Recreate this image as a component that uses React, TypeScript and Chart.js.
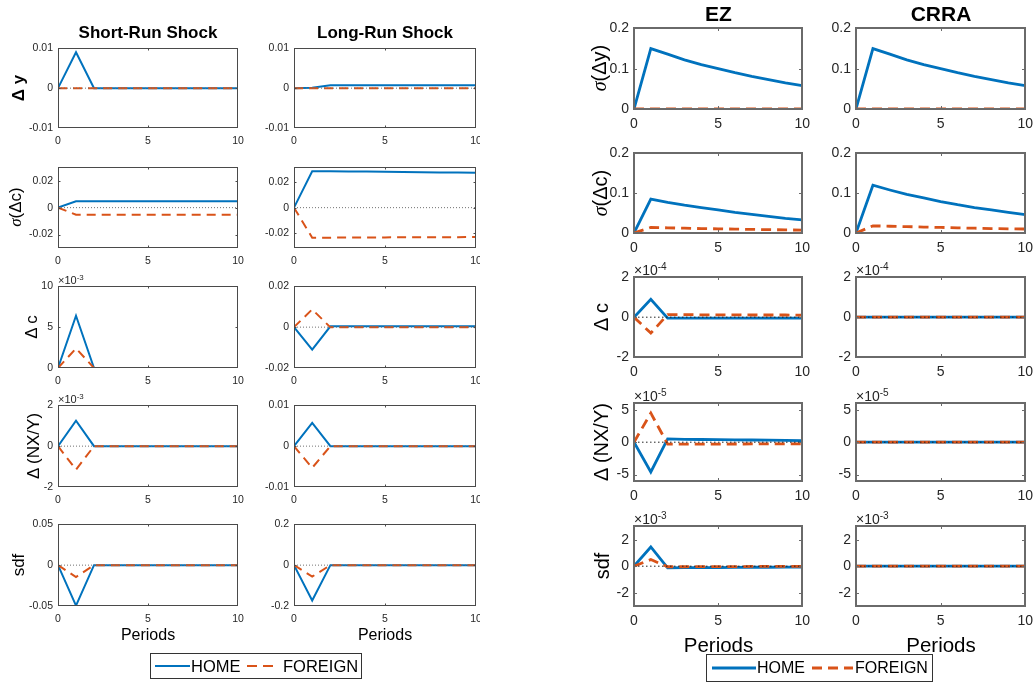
import React, { useEffect, useRef } from 'react';
import { Chart, registerables } from 'chart.js';

Chart.register(...registerables);

const FONT = "'Liberation Sans', Arial, Helvetica, sans-serif";
const BLUE = '#0072BD';
const RED = '#D95319';
const TICK_COLOR = '#262626';

// ---------- shared axes ----------
const PERIODS = [0, 1, 2, 3, 4, 5, 6, 7, 8, 9, 10];
const X_TICKS = [0, 5, 10];
const ZERO_LINE = [0, 0, 0, 0, 0, 0, 0, 0, 0, 0, 0];

// ---------- left figure: Short-Run (SR) and Long-Run (LR) shocks ----------
const SR_DY_HOME = [0, 0.009, 0, 0, 0, 0, 0, 0, 0, 0, 0];
const SR_DY_FOREIGN = [0, 0, 0, 0, 0, 0, 0, 0, 0, 0, 0];
const LR_DY_HOME = [0, 0.0001, 0.0007, 0.0007, 0.0007, 0.0007, 0.0007, 0.0007, 0.0007, 0.0007, 0.0007];
const LR_DY_FOREIGN = [0, 0, 0, 0, 0, 0, 0, 0, 0, 0, 0];

const SR_SDC_HOME = [0, 0.0047, 0.0047, 0.0047, 0.0047, 0.0047, 0.0047, 0.0047, 0.0047, 0.0047, 0.0047];
const SR_SDC_FOREIGN = [0, -0.0052, -0.0052, -0.0052, -0.0052, -0.0052, -0.0052, -0.0052, -0.0052, -0.0052, -0.0052];
const LR_SDC_HOME = [0, 0.0289, 0.0288, 0.0287, 0.0286, 0.0284, 0.0283, 0.0281, 0.0279, 0.0278, 0.0276];
const LR_SDC_FOREIGN = [0, -0.0238, -0.0238, -0.0237, -0.0237, -0.0236, -0.0235, -0.0235, -0.0234, -0.0234, -0.0233];

// x10^-3
const SR_DC_HOME = [0, 6.4, 0, 0, 0, 0, 0, 0, 0, 0, 0];
const SR_DC_FOREIGN = [0, 2.4, 0, 0, 0, 0, 0, 0, 0, 0, 0];
const LR_DC_HOME = [0, -0.011, 0.0004, 0.0004, 0.0004, 0.0004, 0.0004, 0.0004, 0.0004, 0.0004, 0.0004];
const LR_DC_FOREIGN = [0, 0.0087, -0.0001, -0.0001, -0.0001, -0.0001, -0.0001, -0.0001, -0.0001, -0.0001, -0.0001];

// x10^-3
const SR_NX_HOME = [0, 1.25, 0, 0, 0, 0, 0, 0, 0, 0, 0];
const SR_NX_FOREIGN = [0, -1.15, 0, 0, 0, 0, 0, 0, 0, 0, 0];
const LR_NX_HOME = [0, 0.0057, 0, 0, 0, 0, 0, 0, 0, 0, 0];
const LR_NX_FOREIGN = [0, -0.0053, 0, 0, 0, 0, 0, 0, 0, 0, 0];

const SR_SDF_HOME = [0, -0.0495, 0, 0, 0, 0, 0, 0, 0, 0, 0];
const SR_SDF_FOREIGN = [0, -0.0145, 0, 0, 0, 0, 0, 0, 0, 0, 0];
const LR_SDF_HOME = [0, -0.173, 0, 0, 0, 0, 0, 0, 0, 0, 0];
const LR_SDF_FOREIGN = [0, -0.056, 0, 0, 0, 0, 0, 0, 0, 0, 0];

// ---------- right figure: EZ and CRRA ----------
const EZ_SDY_HOME = [0, 0.15, 0.136, 0.122, 0.11, 0.1, 0.09, 0.081, 0.073, 0.065, 0.058];
const EZ_SDY_FOREIGN = [0, 0, 0, 0, 0, 0, 0, 0, 0, 0, 0];
const CRRA_SDY_HOME = [0, 0.15, 0.136, 0.122, 0.11, 0.1, 0.09, 0.081, 0.073, 0.065, 0.058];
const CRRA_SDY_FOREIGN = [0, 0, 0, 0, 0, 0, 0, 0, 0, 0, 0];

const EZ_SDC_HOME = [0, 0.085, 0.077, 0.07, 0.064, 0.058, 0.052, 0.047, 0.042, 0.037, 0.033];
const EZ_SDC_FOREIGN = [0, 0.014, 0.013, 0.012, 0.011, 0.0105, 0.0098, 0.009, 0.0085, 0.0078, 0.0073];
const CRRA_SDC_HOME = [0, 0.12, 0.108, 0.097, 0.088, 0.079, 0.071, 0.064, 0.058, 0.052, 0.046];
const CRRA_SDC_FOREIGN = [0, 0.018, 0.017, 0.016, 0.015, 0.014, 0.013, 0.012, 0.011, 0.0105, 0.01];

// x10^-4
const EZ_DC_HOME = [0, 0.9, -0.05, -0.05, -0.05, -0.05, -0.05, -0.05, -0.05, -0.05, -0.05];
const EZ_DC_FOREIGN = [0, -0.8, 0.13, 0.13, 0.12, 0.12, 0.12, 0.11, 0.11, 0.11, 0.1];
const CRRA_DC_HOME = [0, 0, 0, 0, 0, 0, 0, 0, 0, 0, 0];
const CRRA_DC_FOREIGN = [0, 0, 0, 0, 0, 0, 0, 0, 0, 0, 0];

// x10^-5
const EZ_NX_HOME = [0, -4.6, 0.5, 0.45, 0.42, 0.4, 0.37, 0.34, 0.31, 0.28, 0.25];
const EZ_NX_FOREIGN = [0, 4.5, -0.3, -0.3, -0.3, -0.3, -0.28, -0.27, -0.26, -0.25, -0.25];
const CRRA_NX_HOME = [0, 0, 0, 0, 0, 0, 0, 0, 0, 0, 0];
const CRRA_NX_FOREIGN = [0, 0, 0, 0, 0, 0, 0, 0, 0, 0, 0];

// x10^-3
const EZ_SDF_HOME = [0, 1.45, -0.12, -0.11, -0.1, -0.1, -0.09, -0.08, -0.08, -0.07, -0.07];
const EZ_SDF_FOREIGN = [0, 0.5, -0.04, -0.04, -0.03, -0.03, -0.03, -0.02, -0.02, -0.02, -0.02];
const CRRA_SDF_HOME = [0, 0, 0, 0, 0, 0, 0, 0, 0, 0, 0];
const CRRA_SDF_FOREIGN = [0, 0, 0, 0, 0, 0, 0, 0, 0, 0, 0];

// ---------- tick sets ----------
const TICKS_PM001 = [-0.01, 0, 0.01];
const LABELS_PM001 = ['-0.01', '0', '0.01'];
const TICKS_PM002 = [-0.02, 0, 0.02];
const LABELS_PM002 = ['-0.02', '0', '0.02'];
const TICKS_0_10 = [0, 5, 10];
const LABELS_0_10 = ['0', '5', '10'];
const TICKS_PM2 = [-2, 0, 2];
const LABELS_PM2 = ['-2', '0', '2'];
const TICKS_PM005 = [-0.05, 0, 0.05];
const LABELS_PM005 = ['-0.05', '0', '0.05'];
const TICKS_PM02 = [-0.2, 0, 0.2];
const LABELS_PM02 = ['-0.2', '0', '0.2'];
const TICKS_0_02 = [0, 0.1, 0.2];
const LABELS_0_02 = ['0', '0.1', '0.2'];
const TICKS_PM5 = [-5, 0, 5];
const LABELS_PM5 = ['-5', '0', '5'];

// ---------- text ----------
const LEFT_TITLES = ['Short-Run Shock', 'Long-Run Shock'];
const RIGHT_TITLES = ['EZ', 'CRRA'];
const X_LABEL = 'Periods';
const SERIES_NAMES = ['HOME', 'FOREIGN'];

// ---------- layout ----------
const LEFT_COLS = [[58, 238], [294, 476]];
const LEFT_ROWS = [[47, 128], [166, 248], [285, 368], [404, 487], [523, 606]];
const RIGHT_COLS = [[634, 803], [856, 1026]];
const RIGHT_ROWS = [[27, 109], [152, 233], [276, 357], [402, 481], [525, 606]];

type Style = {
  lw: number; dash: number[]; zeroColor: string; zeroDash: number[];
  tickFont: number; boxColor: string; boxWidth: number; tickLen: number;
  axisW: number; axisH: number; padT: number; padR: number; xPad: number; yPad: number;
};

const LEFT_STYLE: Style = {
  lw: 2, dash: [9, 6], zeroColor: '#707070', zeroDash: [1, 2],
  tickFont: 10.5, boxColor: '#4a4a4a', boxWidth: 1, tickLen: 2,
  axisW: 50, axisH: 26, padT: 10, padR: 14, xPad: 7, yPad: 5,
};
const RIGHT_STYLE: Style = {
  lw: 2.8, dash: [10, 6], zeroColor: '#222222', zeroDash: [1.5, 2.5],
  tickFont: 14, boxColor: '#6a6a6a', boxWidth: 2, tickLen: 3,
  axisW: 50, axisH: 30, padT: 12, padR: 14, xPad: 7, yPad: 5,
};

type Panel = {
  r: number; c: number; home: number[]; foreign: number[];
  y: number[]; ticks: number[]; labels: string[]; exp?: string;
};

const LEFT_PANELS: Panel[] = [
  { r: 0, c: 0, home: SR_DY_HOME, foreign: SR_DY_FOREIGN, y: [-0.01, 0.01], ticks: TICKS_PM001, labels: LABELS_PM001 },
  { r: 0, c: 1, home: LR_DY_HOME, foreign: LR_DY_FOREIGN, y: [-0.01, 0.01], ticks: TICKS_PM001, labels: LABELS_PM001 },
  { r: 1, c: 0, home: SR_SDC_HOME, foreign: SR_SDC_FOREIGN, y: [-0.03, 0.03], ticks: TICKS_PM002, labels: LABELS_PM002 },
  { r: 1, c: 1, home: LR_SDC_HOME, foreign: LR_SDC_FOREIGN, y: [-0.032, 0.032], ticks: TICKS_PM002, labels: LABELS_PM002 },
  { r: 2, c: 0, home: SR_DC_HOME, foreign: SR_DC_FOREIGN, y: [0, 10], ticks: TICKS_0_10, labels: LABELS_0_10, exp: '-3' },
  { r: 2, c: 1, home: LR_DC_HOME, foreign: LR_DC_FOREIGN, y: [-0.02, 0.02], ticks: TICKS_PM002, labels: LABELS_PM002 },
  { r: 3, c: 0, home: SR_NX_HOME, foreign: SR_NX_FOREIGN, y: [-2, 2], ticks: TICKS_PM2, labels: LABELS_PM2, exp: '-3' },
  { r: 3, c: 1, home: LR_NX_HOME, foreign: LR_NX_FOREIGN, y: [-0.01, 0.01], ticks: TICKS_PM001, labels: LABELS_PM001 },
  { r: 4, c: 0, home: SR_SDF_HOME, foreign: SR_SDF_FOREIGN, y: [-0.05, 0.05], ticks: TICKS_PM005, labels: LABELS_PM005 },
  { r: 4, c: 1, home: LR_SDF_HOME, foreign: LR_SDF_FOREIGN, y: [-0.2, 0.2], ticks: TICKS_PM02, labels: LABELS_PM02 },
];

const RIGHT_PANELS: Panel[] = [
  { r: 0, c: 0, home: EZ_SDY_HOME, foreign: EZ_SDY_FOREIGN, y: [0, 0.2], ticks: TICKS_0_02, labels: LABELS_0_02 },
  { r: 0, c: 1, home: CRRA_SDY_HOME, foreign: CRRA_SDY_FOREIGN, y: [0, 0.2], ticks: TICKS_0_02, labels: LABELS_0_02 },
  { r: 1, c: 0, home: EZ_SDC_HOME, foreign: EZ_SDC_FOREIGN, y: [0, 0.2], ticks: TICKS_0_02, labels: LABELS_0_02 },
  { r: 1, c: 1, home: CRRA_SDC_HOME, foreign: CRRA_SDC_FOREIGN, y: [0, 0.2], ticks: TICKS_0_02, labels: LABELS_0_02 },
  { r: 2, c: 0, home: EZ_DC_HOME, foreign: EZ_DC_FOREIGN, y: [-2, 2], ticks: TICKS_PM2, labels: LABELS_PM2, exp: '-4' },
  { r: 2, c: 1, home: CRRA_DC_HOME, foreign: CRRA_DC_FOREIGN, y: [-2, 2], ticks: TICKS_PM2, labels: LABELS_PM2, exp: '-4' },
  { r: 3, c: 0, home: EZ_NX_HOME, foreign: EZ_NX_FOREIGN, y: [-6, 6], ticks: TICKS_PM5, labels: LABELS_PM5, exp: '-5' },
  { r: 3, c: 1, home: CRRA_NX_HOME, foreign: CRRA_NX_FOREIGN, y: [-6, 6], ticks: TICKS_PM5, labels: LABELS_PM5, exp: '-5' },
  { r: 4, c: 0, home: EZ_SDF_HOME, foreign: EZ_SDF_FOREIGN, y: [-3, 3], ticks: TICKS_PM2, labels: LABELS_PM2, exp: '-3' },
  { r: 4, c: 1, home: CRRA_SDF_HOME, foreign: CRRA_SDF_FOREIGN, y: [-3, 3], ticks: TICKS_PM2, labels: LABELS_PM2, exp: '-3' },
];

const boxPlugin = {
  id: 'matlabBox',
  afterDatasetsDraw(chart: any, _args: any, opts: any) {
    const { ctx, chartArea: a } = chart;
    const xs = chart.scales.x;
    const ys = chart.scales.y;
    const off = opts.width % 2 === 1 ? 0.5 : 0;
    const L = Math.round(a.left) + off;
    const T = Math.round(a.top) + off;
    const R = Math.round(a.right) - off;
    const B = Math.round(a.bottom) - off;
    ctx.save();
    ctx.strokeStyle = opts.color;
    ctx.lineWidth = opts.width;
    ctx.setLineDash([]);
    ctx.strokeRect(L, T, R - L, B - T);
    ctx.beginPath();
    xs.ticks.forEach((t: any) => {
      const x = Math.round(xs.getPixelForValue(t.value)) + 0.5;
      if (x > L + 2 && x < R - 2) {
        ctx.moveTo(x, B); ctx.lineTo(x, B - opts.len);
        ctx.moveTo(x, T); ctx.lineTo(x, T + opts.len);
      }
    });
    ys.ticks.forEach((t: any) => {
      const y = Math.round(ys.getPixelForValue(t.value)) + 0.5;
      if (y > T + 2 && y < B - 2) {
        ctx.moveTo(L, y); ctx.lineTo(L + opts.len, y);
        ctx.moveTo(R, y); ctx.lineTo(R - opts.len, y);
      }
    });
    ctx.lineWidth = 1;
    ctx.stroke();
    ctx.restore();
  },
};

function toPoints(values: number[]) {
  return values.map((v, i) => ({ x: PERIODS[i], y: v }));
}

function PanelChart({ p, box, st }: { p: Panel; box: number[]; st: Style }) {
  const ref = useRef<HTMLCanvasElement>(null);
  const [l, t, r, b] = box;
  const width = r - l + st.axisW + st.padR;
  const height = b - t + st.padT + st.axisH;
  useEffect(() => {
    const chart = new Chart(ref.current as HTMLCanvasElement, {
      type: 'line',
      data: {
        datasets: [
          {
            data: toPoints(ZERO_LINE), borderColor: st.zeroColor, borderWidth: 1,
            borderDash: st.zeroDash, pointRadius: 0, order: 1,
          },
          {
            data: toPoints(p.foreign), borderColor: RED, borderWidth: st.lw,
            borderDash: st.dash, pointRadius: 0, order: 2,
          },
          {
            data: toPoints(p.home), borderColor: BLUE, borderWidth: st.lw,
            pointRadius: 0, order: 3,
          },
        ],
      },
      options: {
        animation: false,
        responsive: false,
        devicePixelRatio: 1,
        layout: { padding: { top: st.padT, right: st.padR, left: 0, bottom: 0 } },
        elements: { line: { tension: 0, borderCapStyle: 'butt' }, point: { radius: 0 } },
        plugins: {
          legend: { display: false },
          tooltip: { enabled: false },
          matlabBox: { color: st.boxColor, width: st.boxWidth, len: st.tickLen },
        } as any,
        scales: {
          x: {
            type: 'linear', min: 0, max: 10,
            grid: { display: false, drawTicks: false },
            border: { display: false },
            ticks: {
              font: { family: FONT, size: st.tickFont }, color: TICK_COLOR,
              padding: st.xPad, maxRotation: 0, autoSkip: false,
              callback: (v: any) => String(v),
            },
            afterBuildTicks: (s: any) => { s.ticks = X_TICKS.map((v) => ({ value: v })); },
            afterFit: (s: any) => { s.height = st.axisH; },
          },
          y: {
            type: 'linear', min: p.y[0], max: p.y[1],
            grid: { display: false, drawTicks: false },
            border: { display: false },
            ticks: {
              font: { family: FONT, size: st.tickFont }, color: TICK_COLOR,
              padding: st.yPad, autoSkip: false,
              callback: (v: any) => {
                const i = p.ticks.indexOf(v);
                return i >= 0 ? p.labels[i] : '';
              },
            },
            afterBuildTicks: (s: any) => { s.ticks = p.ticks.map((v) => ({ value: v })); },
            afterFit: (s: any) => { s.width = st.axisW; },
          },
        },
      } as any,
      plugins: [boxPlugin],
    });
    return () => chart.destroy();
  }, []);
  return (
    <canvas
      ref={ref}
      width={width}
      height={height}
      style={{ position: 'absolute', left: l - st.axisW, top: t - st.padT, width, height }}
    />
  );
}

function Text({ x, y, size, bold, children, rotate }: any) {
  return (
    <div
      style={{
        position: 'absolute', left: x, top: y,
        transform: `translate(-50%, -50%)${rotate ? ' rotate(-90deg)' : ''}`,
        whiteSpace: 'nowrap', fontFamily: FONT, fontSize: size,
        fontWeight: bold ? 'bold' : 'normal', lineHeight: 1, color: '#000',
      }}
    >
      {children}
    </div>
  );
}

function Exponent({ x, y, size, exp }: any) {
  return (
    <div
      style={{
        position: 'absolute', left: x, top: y, transform: 'translateY(-50%)',
        whiteSpace: 'nowrap', fontFamily: FONT, fontSize: size, lineHeight: 1, color: TICK_COLOR,
      }}
    >
      ×10<span style={{ fontSize: '0.72em', position: 'relative', top: '-0.5em' }}>{exp}</span>
    </div>
  );
}

const Sigma = () => <span style={{ fontStyle: 'italic', fontFamily: "'Liberation Serif', serif" }}>σ</span>;

function Legend({ left, top, w, h, blue, red, homeX, foreignX, size, lw, dash }: any) {
  const cy = top + h / 2;
  return (
    <>
      <div style={{ position: 'absolute', left, top, width: w, height: h, border: '1px solid #333', boxSizing: 'border-box', background: '#fff' }} />
      <svg style={{ position: 'absolute', left: 0, top: 0 }} width={1036} height={683}>
        <line x1={blue[0]} x2={blue[1]} y1={cy} y2={cy} stroke={BLUE} strokeWidth={lw} />
        <line x1={red[0]} x2={red[1]} y1={cy} y2={cy} stroke={RED} strokeWidth={lw} strokeDasharray={dash.join(' ')} />
      </svg>
      <div style={{ position: 'absolute', left: homeX, top: cy, transform: 'translateY(-50%)', fontFamily: FONT, fontSize: size, lineHeight: 1, color: '#000' }}>{SERIES_NAMES[0]}</div>
      <div style={{ position: 'absolute', left: foreignX, top: cy, transform: 'translateY(-50%)', fontFamily: FONT, fontSize: size, lineHeight: 1, color: '#000' }}>{SERIES_NAMES[1]}</div>
    </>
  );
}

export default function App() {
  const leftLabelX = [18, 15, 31, 33, 18];
  const rightLabelX = [599, 600, 601, 601, 602];
  const rowLabels = [
    <>Δ y</>,
    <><Sigma />(Δc)</>,
    <>Δ c</>,
    <>Δ (NX/Y)</>,
    <>sdf</>,
  ];
  const rightRowLabels = [
    <><Sigma />(Δy)</>,
    <><Sigma />(Δc)</>,
    <>Δ c</>,
    <>Δ (NX/Y)</>,
    <>sdf</>,
  ];
  return (
    <div style={{ position: 'absolute', left: 0, top: 0, width: 1036, height: 683, overflow: 'hidden', background: '#fff' }}>
      <div style={{ position: 'absolute', left: 0, top: 0, width: 480, height: 683, overflow: 'hidden' }}>
        {LEFT_PANELS.map((p, i) => {
          const [l, r] = LEFT_COLS[p.c];
          const [t, b] = LEFT_ROWS[p.r];
          return <PanelChart key={i} p={p} box={[l, t, r, b]} st={LEFT_STYLE} />;
        })}
        {LEFT_TITLES.map((s, i) => (
          <Text key={s} x={(LEFT_COLS[i][0] + LEFT_COLS[i][1]) / 2} y={32} size={17} bold>{s}</Text>
        ))}
        {rowLabels.map((lab, i) => (
          <Text key={i} x={leftLabelX[i]} y={(LEFT_ROWS[i][0] + LEFT_ROWS[i][1]) / 2} size={17} bold={i === 0} rotate>{lab}</Text>
        ))}
        {LEFT_PANELS.filter((p) => p.exp).map((p, i) => (
          <Exponent key={i} x={LEFT_COLS[p.c][0]} y={LEFT_ROWS[p.r][0] - 5} size={11} exp={p.exp} />
        ))}
        {LEFT_COLS.map((c, i) => (
          <Text key={i} x={(c[0] + c[1]) / 2} y={635} size={16}>{X_LABEL}</Text>
        ))}
        <Legend left={150} top={653} w={212} h={26} blue={[155, 190]} red={[247, 273]} homeX={191} foreignX={283} size={16.5} lw={2} dash={[10, 6]} />
      </div>

      {RIGHT_PANELS.map((p, i) => {
        const [l, r] = RIGHT_COLS[p.c];
        const [t, b] = RIGHT_ROWS[p.r];
        return <PanelChart key={'r' + i} p={p} box={[l, t, r, b]} st={RIGHT_STYLE} />;
      })}
      {RIGHT_TITLES.map((s, i) => (
        <Text key={s} x={(RIGHT_COLS[i][0] + RIGHT_COLS[i][1]) / 2} y={13} size={21} bold>{s}</Text>
      ))}
      {rightRowLabels.map((lab, i) => (
        <Text key={'rl' + i} x={rightLabelX[i]} y={(RIGHT_ROWS[i][0] + RIGHT_ROWS[i][1]) / 2} size={20} rotate>{lab}</Text>
      ))}
      {RIGHT_PANELS.filter((p) => p.exp).map((p, i) => (
        <Exponent key={'re' + i} x={RIGHT_COLS[p.c][0]} y={RIGHT_ROWS[p.r][0] - 6} size={14} exp={p.exp} />
      ))}
      {RIGHT_COLS.map((c, i) => (
        <Text key={'rp' + i} x={(c[0] + c[1]) / 2} y={645} size={20.5}>{X_LABEL}</Text>
      ))}
      <Legend left={706} top={654} w={227} h={28} blue={[712, 756]} red={[812, 853]} homeX={757} foreignX={855} size={16} lw={3} dash={[10, 6]} />
    </div>
  );
}
